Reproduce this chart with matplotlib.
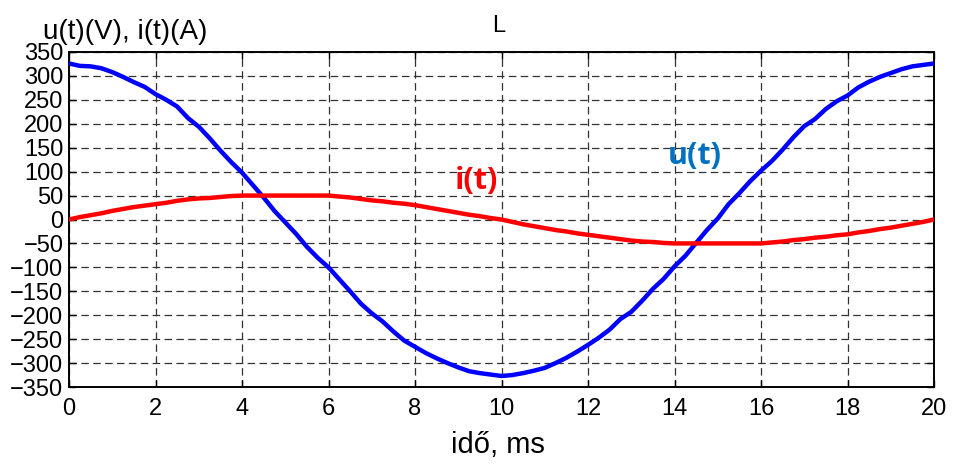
import numpy as np
import matplotlib
matplotlib.use("Agg")
import matplotlib.pyplot as plt

# time axis, ms (0.25 ms sampling)
t_ms = np.linspace(0, 20, 81)

# voltage u(t), V
u_vals = [326, 321, 320, 316, 308, 298, 287, 277, 262, 250,
          236, 212, 194, 170, 144, 120, 98, 72, 46, 18,
          -6, -30, -57, -80, -100, -125, -150, -176, -196, -213,
          -234, -253, -266, -279, -290, -300, -309, -317, -321, -324,
          -327, -325, -321, -316, -310, -300, -289, -276, -262, -247,
          -230, -208, -193, -170, -145, -124, -98, -76, -49, -22,
          2, 32, 55, 80, 102, 122, 146, 172, 195, 210,
          231, 247, 259, 276, 288, 298, 306, 314, 320, 323, 326]

# current i(t), A
i_vals = [0, 5, 9, 13, 18, 22, 26, 29, 32, 35,
          39, 42, 44, 45, 47, 49, 50, 50, 50, 50,
          50, 50, 50, 50, 50, 48, 46, 43, 40, 38,
          35, 33, 30, 26, 22, 18, 14, 10, 7, 3,
          0, -5, -10, -14, -18, -22, -25, -29, -32, -35,
          -38, -41, -44, -46, -47, -49, -50, -50, -50, -50,
          -50, -50, -50, -50, -50, -48, -46, -43, -41, -38,
          -36, -33, -31, -27, -24, -20, -17, -13, -9, -5, 0]

x_ticks = [0, 2, 4, 6, 8, 10, 12, 14, 16, 18, 20]
y_ticks = list(range(-350, 351, 50))

plt.rcParams['font.family'] = ['Liberation Sans', 'DejaVu Sans']

fig = plt.figure(figsize=(9.54, 4.66), dpi=100)
ax = fig.add_axes([69/954, 1-387/466, (934-69)/954, (387-52)/466])

ax.plot(t_ms, u_vals, color='#0000FF', lw=3.2, solid_joinstyle='round', zorder=3)
ax.plot(t_ms, i_vals, color='#FF0000', lw=3.2, solid_joinstyle='round', zorder=3)

ax.set_xlim(0, 20)
ax.set_ylim(-350, 350)
ax.set_xticks(x_ticks)
ax.set_yticks(y_ticks)
ax.tick_params(direction='in', top=True, right=True, length=5, width=1,
               labelsize=17, colors='black')
ax.tick_params(axis='y', pad=4)
ax.tick_params(axis='x', pad=8)
ax.grid(True, color='#333333', lw=0.9, linestyle=(0, (6, 3.5)))
for s in ax.spines.values():
    s.set_linewidth(1.4)
    s.set_color('black')

ax.text(9.41, 81, 'i(t)', color='#FF0000', fontsize=22, fontweight='bold',
        family=['Open Sans', 'DejaVu Sans'], ha='center', va='center', zorder=4)
ax.text(14.47, 133, 'u(t)', color='#0070C0', fontsize=22, fontweight='bold',
        family=['Open Sans', 'DejaVu Sans'], ha='center', va='center', zorder=4)

fig.text(43/954, 1-39/466, 'u(t)(V), i(t)(A)', fontsize=20, ha='left', va='baseline')
fig.text(499/954, 1-32/466, 'L', fontsize=17, ha='center', va='baseline')
fig.text(498/954, 1-453/466, 'idő, ms', fontsize=21, ha='center', va='baseline')

fig.savefig('out.png', dpi=100)
